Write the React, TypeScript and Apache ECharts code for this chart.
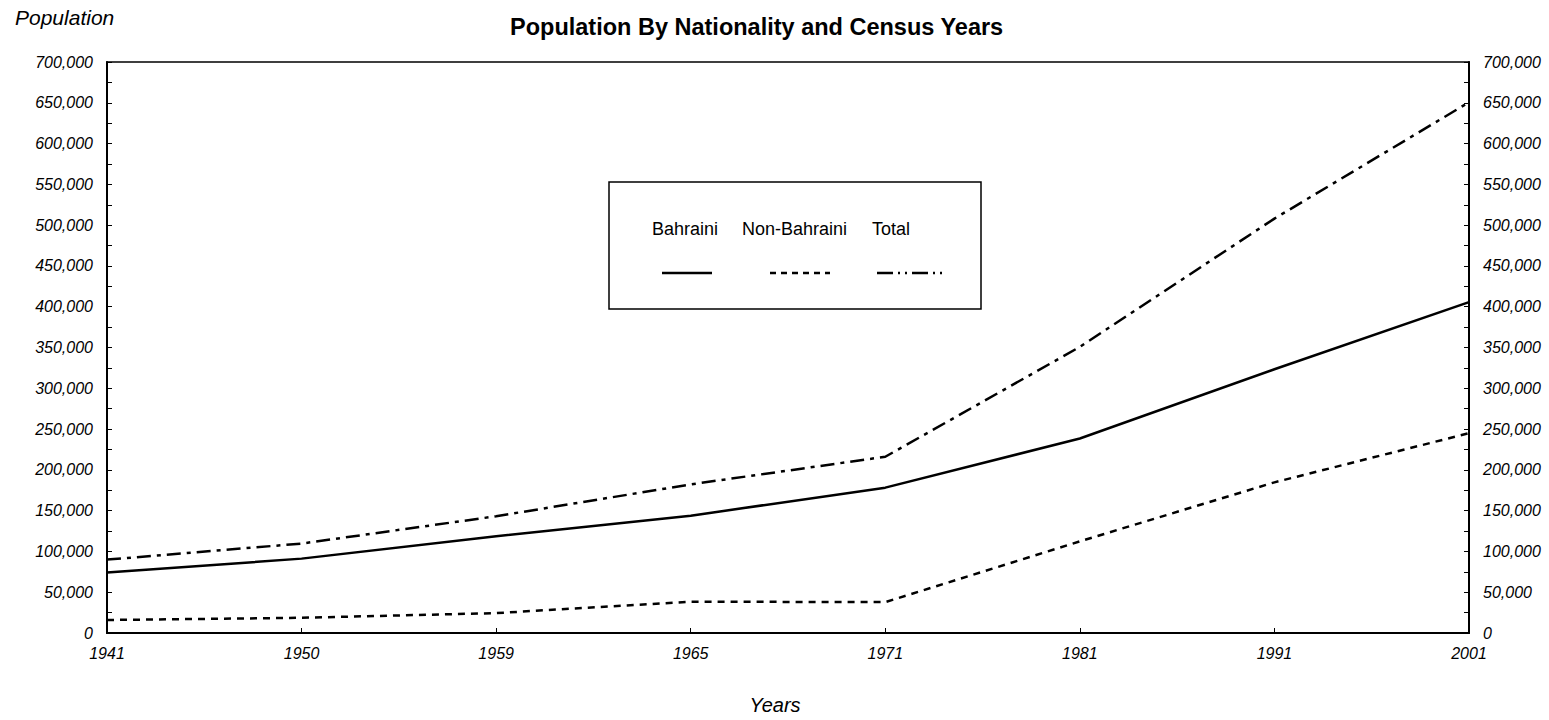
import React, { useEffect, useRef } from 'react';
import * as echarts from 'echarts';

const years = ['1941', '1950', '1959', '1965', '1971', '1981', '1991', '2001'];
const bahraini = [74040, 91179, 118734, 143814, 178193, 238420, 323305, 405667];
const nonBahraini = [15930, 18631, 24401, 38389, 37885, 112378, 184699, 244937];
const total = [89970, 109650, 143135, 182203, 216078, 350798, 508037, 650604];
const seriesNames = ['Bahraini', 'Non-Bahraini', 'Total'];
const yMin = 0;
const yMax = 700000;
const yInterval = 50000;

const FONT = 'Arial, "Liberation Sans", Helvetica, sans-serif';
const seriesDashes: (number[] | null)[] = [null, [7, 6], [14, 6, 4, 6]];
const legendDashes: (number[] | null)[] = [null, [6, 5], [16, 5, 2, 5, 2, 5]];

export default function App() {
  const ref = useRef<HTMLDivElement>(null);
  useEffect(() => {
    document.body.style.margin = '0';
    if (!ref.current) return;
    const chart = echarts.init(ref.current, undefined, { renderer: 'svg' });
    const fmt = (v: number) => v.toLocaleString('en-US');
    const yAxisBase = (pos: 'left' | 'right') => ({
      type: 'value',
      position: pos,
      min: yMin,
      max: yMax,
      interval: yInterval,
      axisLine: { show: true, lineStyle: { color: '#000', width: 2 } },
      axisTick: { show: true, inside: true, length: 5, lineStyle: { color: '#000', width: 1 } },
      minorTick: { show: true, splitNumber: 2, length: 5, lineStyle: { color: '#000', width: 1 } },
      splitLine: { show: false },
      axisLabel: {
        formatter: fmt,
        color: '#000',
        fontFamily: FONT,
        fontStyle: 'italic',
        fontSize: 16,
        margin: 14,
      },
    });
    const values = [bahraini, nonBahraini, total];
    const legendX = [
      { tx: 652, x1: 662, x2: 712 },
      { tx: 742, x1: 770, x2: 830 },
      { tx: 872, x1: 877, x2: 947 },
    ];
    const graphics: any[] = [
      {
        type: 'text',
        left: 15,
        top: 7,
        style: { text: 'Population', fontFamily: FONT, fontStyle: 'italic', fontSize: 21, fill: '#000' },
      },
      {
        type: 'text',
        x: 775,
        y: 705,
        style: {
          text: 'Years',
          fontFamily: FONT,
          fontStyle: 'italic',
          fontSize: 20,
          fill: '#000',
          align: 'center',
          verticalAlign: 'middle',
        },
      },
      {
        type: 'rect',
        shape: { x: 609, y: 182, width: 372, height: 127 },
        style: { fill: '#fff', stroke: '#000', lineWidth: 1.5 },
        z: 10,
      },
    ];
    seriesNames.forEach((n, i) => {
      graphics.push({
        type: 'text',
        x: legendX[i].tx,
        y: 229,
        z: 11,
        style: { text: n, fontFamily: FONT, fontSize: 18, fill: '#000', align: 'left', verticalAlign: 'middle' },
      });
      graphics.push({
        type: 'line',
        z: 11,
        shape: { x1: legendX[i].x1, y1: 273, x2: legendX[i].x2, y2: 273 },
        style: { stroke: '#000', lineWidth: 2.5, lineDash: legendDashes[i] || undefined },
      });
    });
    chart.setOption({
      animation: false,
      backgroundColor: '#fff',
      title: {
        text: 'Population By Nationality and Census Years',
        left: 505,
        top: 10,
        textStyle: { fontFamily: FONT, fontWeight: 'bold', fontSize: 23.5, color: '#000' },
      },
      grid: {
        left: 107,
        right: 80,
        top: 62,
        bottom: 87,
        show: true,
        borderColor: '#000',
        borderWidth: 1.5,
        containLabel: false,
      },
      xAxis: {
        type: 'category',
        data: years,
        boundaryGap: false,
        axisLine: { show: true, lineStyle: { color: '#000', width: 2 } },
        axisTick: { show: true, inside: true, length: 5, lineStyle: { color: '#000', width: 1 } },
        splitLine: { show: false },
        axisLabel: {
          color: '#000',
          fontFamily: FONT,
          fontStyle: 'italic',
          fontSize: 16,
          margin: 12,
          interval: 0,
        },
      },
      yAxis: [yAxisBase('left'), yAxisBase('right')],
      graphic: graphics,
      series: seriesNames.map((n, i) => ({
        name: n,
        type: 'line',
        data: values[i],
        symbol: 'none',
        lineStyle: { color: '#000', width: 2.5, type: seriesDashes[i] || 'solid' },
        z: 3,
      })),
    });
    return () => chart.dispose();
  }, []);
  return <div ref={ref} style={{ width: 1549, height: 720 }} />;
}
